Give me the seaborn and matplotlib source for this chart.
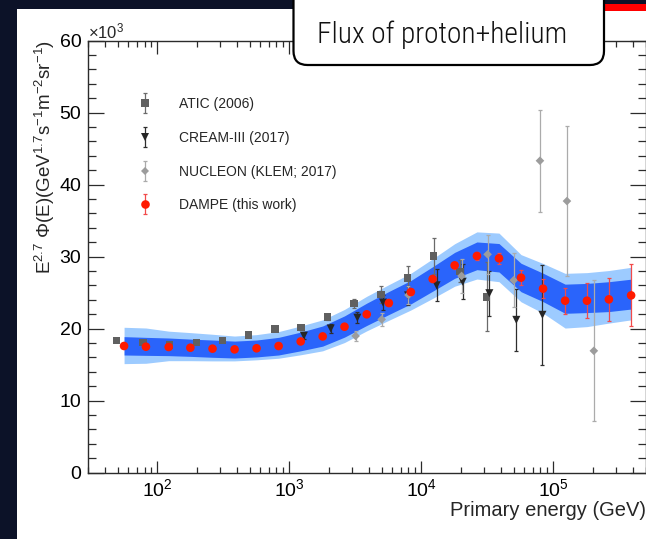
import numpy as np
import pandas as pd
import matplotlib
matplotlib.use("Agg")
import matplotlib.pyplot as plt
import seaborn as sns
from matplotlib.lines import Line2D
from matplotlib.patches import FancyBboxPatch, Rectangle
from matplotlib.transforms import IdentityTransform
from matplotlib.container import ErrorbarContainer
from matplotlib.legend_handler import HandlerErrorbar
from matplotlib.ticker import LogLocator, MultipleLocator, NullFormatter

# ---------------------------------------------------------------------------
# E^2.7 x flux of p+He, in units of 10^3 GeV^1.7 s^-1 m^-2 sr^-1
# ---------------------------------------------------------------------------
dampe_energy = [56, 82, 122, 178, 262, 385, 565, 830, 1220, 1790, 2620, 3860,
                5680, 8340, 12200, 17900, 26400, 38800, 57000, 83700, 123000,
                180000, 264000, 389000]
dampe_flux = [17.57, 17.47, 17.43, 17.33, 17.2, 17.1, 17.25, 17.57, 18.2, 18.9,
              20.25, 21.97, 23.54, 25.07, 26.88, 28.77, 30.07, 29.75, 27.06,
              25.53, 23.86, 23.86, 24.05, 24.6]
dampe_err = [0.2, 0.2, 0.2, 0.2, 0.2, 0.2, 0.2, 0.25, 0.25, 0.3, 0.3, 0.3,
             0.35, 0.35, 0.4, 0.45, 0.55, 0.8, 1.05, 1.3, 1.8, 2.4, 3.0, 4.3]

# systematic bands (inner: analysis, outer: incl. hadronic model)
band_inner_low = [16.32, 16.27, 16.23, 16.13, 16.0, 15.9, 16.05, 16.32, 16.9,
                  17.55, 18.8, 20.42, 21.94, 23.42, 25.18, 26.97, 28.17, 27.85,
                  25.11, 23.73, 22.11, 22.21, 22.35, 22.7]
band_inner_high = [18.87, 18.77, 18.68, 18.53, 18.4, 18.25, 18.4, 18.77, 19.5,
                   20.35, 21.75, 23.52, 25.14, 26.67, 28.58, 30.57, 32.02, 31.8,
                   29.06, 27.68, 26.16, 26.26, 26.5, 26.85]
band_outer_low = [15.12, 15.17, 15.53, 15.53, 15.5, 15.5, 15.65, 15.87, 16.35,
                  16.9, 18.05, 19.67, 21.14, 22.57, 24.18, 25.87, 26.87, 26.5,
                  23.71, 22.13, 20.06, 20.26, 20.75, 21.2]
band_outer_high = [20.17, 20.07, 19.63, 19.43, 19.2, 18.95, 19.15, 19.57, 20.35,
                   21.2, 22.65, 24.47, 26.09, 27.67, 29.68, 31.77, 33.42, 33.25,
                   30.26, 29.03, 27.66, 27.76, 28.05, 28.5]

atic_energy = [48.9, 77.6, 124, 198, 312, 491, 778, 1230, 1950, 3100, 4960,
               7870, 12400, 19600, 31300]
atic_flux = [18.3, 18.07, 17.71, 18.03, 18.3, 19.13, 19.92, 20.15, 21.6, 23.44,
             24.75, 27.0, 30.1, 27.95, 24.4]
atic_err = [0.2, 0.2, 0.2, 0.2, 0.2, 0.2, 0.25, 0.3, 0.4, 0.6, 1.2, 1.7, 2.5,
            1.5, 4.8]

cream_energy = [1290, 2060, 3280, 5130, 7940, 13060, 20600, 32800, 52500, 82800]
cream_flux = [19.0, 20.0, 21.5, 23.6, 24.6, 26.0, 26.5, 24.9, 21.2, 21.9]
cream_err = [0.5, 0.6, 0.8, 1.05, 1.3, 2.2, 2.4, 3.1, 4.3, 6.9]

nucleon_energy = [3180, 5010, 8000, 20200, 31800, 50100, 79300, 127000, 203000]
nucleon_flux = [18.96, 21.27, 24.65, 27.3, 30.3, 26.7, 43.3, 37.7, 16.9]
nucleon_err = [0.7, 0.9, 1.2, 2.4, 2.7, 3.75, 7.1, 10.4, 9.8]

labels = ["ATIC (2006)", "CREAM-III (2017)", "NUCLEON (KLEM; 2017)",
          "DAMPE (this work)"]
x_ticks_major = [1e2, 1e3, 1e4, 1e5]
y_ticks_major = [0, 10, 20, 30, 40, 50, 60]

# ---------------------------------------------------------------------------
W, H, DPI = 646, 539, 100
sns.set_theme(style="ticks")
plt.rcParams["font.family"] = ["Liberation Sans", "DejaVu Sans"]
plt.rcParams["mathtext.fontset"] = "custom"
plt.rcParams["mathtext.rm"] = "Liberation Sans"
plt.rcParams["mathtext.it"] = "Liberation Sans:italic"
plt.rcParams["mathtext.bf"] = "Liberation Sans:bold"
plt.rcParams["axes.unicode_minus"] = True

fig = plt.figure(figsize=(W / DPI, H / DPI), dpi=DPI, facecolor="white")


def fig_rect(x0, y0, x1, y1):
    """pixel box (top-left origin) -> figure fraction [l, b, w, h]"""
    return [x0 / W, 1 - y1 / H, (x1 - x0) / W, (y1 - y0) / H]


ax = fig.add_axes(fig_rect(88.3, 40.5, 645.5, 472.5))
ax.set_facecolor("white")

ax.set_xscale("log")
ax.set_xlim(30, 5e5)
ax.set_ylim(0, 60)

# systematic bands
ax.fill_between(dampe_energy, band_outer_low, band_outer_high,
                color="#9dcbff", lw=0, zorder=1)
ax.fill_between(dampe_energy, band_inner_low, band_inner_high,
                color="#2a64fb", lw=0, zorder=2)

styles = {
    labels[0]: dict(color="#606060", ecolor="#6a6a6a", marker="s", ms=5.4),
    labels[1]: dict(color="#262626", ecolor="#2e2e2e", marker="v", ms=5.8),
    labels[2]: dict(color="#9c9c9c", ecolor="#ababab", marker="D", ms=4.4),
    labels[3]: dict(color="#ff1a00", ecolor="#f24a4a", marker="o", ms=6.2),
}
series = [
    (labels[0], atic_energy, atic_flux, atic_err),
    (labels[1], cream_energy, cream_flux, cream_err),
    (labels[2], nucleon_energy, nucleon_flux, nucleon_err),
    (labels[3], dampe_energy, dampe_flux, dampe_err),
]

containers = {}
for name, e, f, err in series:
    st = styles[name]
    containers[name] = ax.errorbar(e, f, yerr=err, fmt="none",
                                   ecolor=st["ecolor"], elinewidth=0.9,
                                   capsize=1.6, capthick=0.9, zorder=3)

df = pd.concat(
    [pd.DataFrame({"energy": e, "flux": f, "experiment": name})
     for name, e, f, err in series],
    ignore_index=True)

sns.scatterplot(
    data=df, x="energy", y="flux", hue="experiment", style="experiment",
    size="experiment",
    palette={k: v["color"] for k, v in styles.items()},
    markers={k: v["marker"] for k, v in styles.items()},
    sizes={k: v["ms"] ** 2 for k, v in styles.items()},
    linewidth=0, legend=False, ax=ax, zorder=4)

# legend: error bar + marker for each experiment
handles = []
for name in labels:
    st = styles[name]
    proxy = Line2D([], [], ls="none", marker=st["marker"], color=st["color"],
                   markersize=st["ms"], markeredgewidth=0)
    handles.append((containers[name], proxy))
ax.legend(handles, labels, loc="upper left", bbox_to_anchor=(0.083, 0.869),
          frameon=False, fontsize=10, handlelength=1.5, handletextpad=1.7,
          labelspacing=1.42, borderpad=0, borderaxespad=0,
          handler_map={ErrorbarContainer: HandlerErrorbar(yerr_size=0.72)})

# axes cosmetics
ax.xaxis.set_major_locator(LogLocator(base=10, numticks=20))
ax.xaxis.set_minor_locator(LogLocator(base=10, subs=np.arange(2, 10), numticks=20))
ax.xaxis.set_minor_formatter(NullFormatter())
ax.set_xticks(x_ticks_major)
ax.set_yticks(y_ticks_major)
ax.yaxis.set_minor_locator(MultipleLocator(2))
for s in ax.spines.values():
    s.set_color("#2b2b2b")
    s.set_linewidth(1.0)
ax.tick_params(which="both", direction="in", top=True, right=True,
               color="#2b2b2b", width=0.9, labelcolor="black")
ax.tick_params(axis="x", which="major", length=9, labelsize=14, pad=4)
ax.tick_params(axis="x", which="minor", length=4.5)
ax.tick_params(axis="y", which="major", length=11.5, labelsize=14, pad=5)
ax.tick_params(axis="y", which="minor", length=5.8)

ax.set_xlabel("Primary energy (GeV)", fontsize=14.5, loc="right", labelpad=1)
ax.set_ylabel("")
ax.text(-0.077, 1.0,
        "E$^{2.7}$ Φ(E)(GeV$^{1.7}$s$^{-1}$m$^{-2}$sr$^{-1}$)",
        rotation=90, ha="center", va="top", fontsize=13.5,
        transform=ax.transAxes)
ax.text(0.0, 1.005, "×10$^{3}$", ha="left", va="baseline", fontsize=12,
        transform=ax.transAxes)

# slide frame: dark edges, accent bar and title box
px = IdentityTransform()
fig.add_artist(Rectangle((0, 0), 17, H, transform=px, color="#0c1228", lw=0))
fig.add_artist(Rectangle((0, H - 9), W, 9, transform=px, color="#0c1228", lw=0))
fig.add_artist(Rectangle((603, H - 10.5), W - 603, 7, transform=px,
                         color="#ff0000", lw=0))
fig.add_artist(FancyBboxPatch((293.5, H - 65), 310.5, 95,
                              boxstyle="round,pad=0,rounding_size=14",
                              transform=px, facecolor="white",
                              edgecolor="black", lw=1.6))
title = fig.text(442.5, H - 43, "Flux of proton+helium", transform=px,
                 ha="center", va="baseline", fontsize=24, color="#111111",
                 family=["Roboto Condensed", "Open Sans Condensed",
                         "Liberation Sans Narrow", "DejaVu Sans"],
                 fontstretch="condensed", fontweight="light")
# fit the title to the width of the box interior
renderer = fig.canvas.get_renderer()
text_w = title.get_window_extent(renderer).width
title.set_fontsize(24 * 251.0 / text_w)

fig.savefig("out.png", dpi=DPI, facecolor="white")
